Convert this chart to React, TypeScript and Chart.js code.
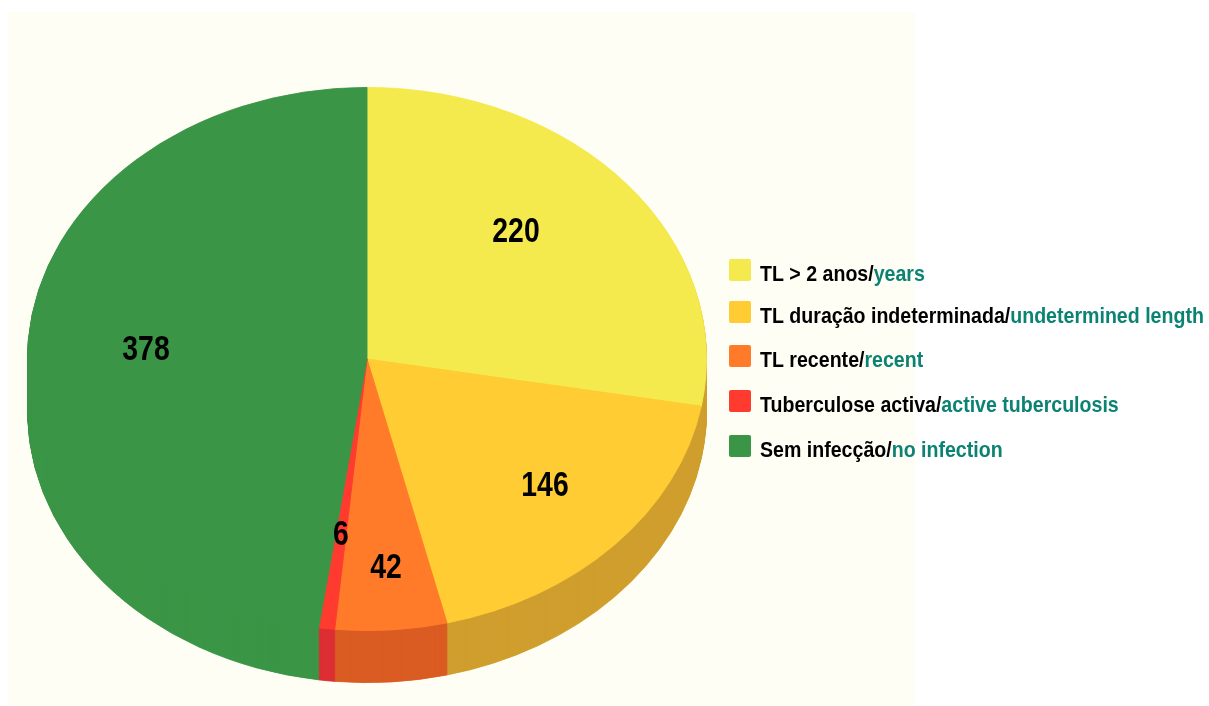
import React, { useEffect, useRef } from "react";
import { Chart, registerables } from "chart.js";

Chart.register(...registerables);

const values = [220, 146, 42, 6, 378];
const labelsPt = ["TL > 2 anos/", "TL duração indeterminada/", "TL recente/", "Tuberculose activa/", "Sem infecção/"];
const labelsEn = ["years", "undetermined length", "recent", "active tuberculosis", "no infection"];
const topColors = ["#F4EA4E", "#FFCC33", "#FF7B29", "#FF3B30", "#3B9546"];
const sideColors = ["#CF9E2E", "#CF9E2E", "#DA5C22", "#DC2F33", "#3B9546"];

const FONT = '"Liberation Sans", Arial, sans-serif';
const SQUASH = 0.8;
const DEPTH = 52;
const VALUE_NARROW = 0.81;
const LEGEND_NARROW = 0.89;
const valueAnchors = [
  [516, 232],
  [545, 486],
  [386, 568],
  [341, 535],
  [146, 350],
];
const legendBaselines = [281, 323, 367, 412, 457];

function narrowText(ctx: CanvasRenderingContext2D, text: string, x: number, y: number, k: number) {
  ctx.save();
  ctx.translate(x, y);
  ctx.scale(k, 1);
  ctx.fillText(text, 0, 0);
  ctx.restore();
}

const piePlugin = {
  id: "pie3d",
  beforeDraw(chart: any) {
    const { ctx } = chart;
    ctx.save();
    ctx.fillStyle = "#FFFEF5";
    ctx.fillRect(8, 12, 907, 694);
    ctx.restore();
  },
  beforeDatasetsDraw(chart: any) {
    const { ctx } = chart;
    const arcs = chart.getDatasetMeta(0).data;
    const cy = arcs[0].y;
    ctx.save();
    ctx.translate(0, cy);
    ctx.scale(1, SQUASH);
    ctx.translate(0, -cy);
    for (let d = DEPTH; d >= 1; d--) {
      ctx.save();
      ctx.translate(0, d / SQUASH);
      arcs.forEach((arc: any, i: number) => {
        const original = arc.options;
        const side = Object.create(original);
        side.backgroundColor = sideColors[i];
        side.borderColor = sideColors[i];
        arc.options = side;
        arc.draw(ctx);
        arc.options = original;
      });
      ctx.restore();
    }
  },
  afterDatasetsDraw(chart: any) {
    const { ctx } = chart;
    ctx.restore();
    ctx.save();
    ctx.fillStyle = "#000";
    ctx.textAlign = "center";
    ctx.textBaseline = "middle";
    ctx.font = `bold 35px ${FONT}`;
    values.forEach((v, i) => {
      narrowText(ctx, String(v), valueAnchors[i][0], valueAnchors[i][1], VALUE_NARROW);
    });
    ctx.textAlign = "left";
    ctx.textBaseline = "alphabetic";
    ctx.font = `bold 22px ${FONT}`;
    labelsPt.forEach((pt, i) => {
      const base = legendBaselines[i];
      ctx.fillStyle = topColors[i];
      ctx.beginPath();
      ctx.roundRect(729, base - 22, 22, 22, 2);
      ctx.fill();
      ctx.fillStyle = "#000";
      narrowText(ctx, pt, 760, base, LEGEND_NARROW);
      ctx.fillStyle = "#0B8273";
      narrowText(ctx, labelsEn[i], 760 + ctx.measureText(pt).width * LEGEND_NARROW, base, LEGEND_NARROW);
    });
    ctx.restore();
  },
};

export default function App() {
  const ref = useRef<HTMLCanvasElement>(null);
  useEffect(() => {
    const chart = new Chart(ref.current!, {
      type: "pie",
      data: {
        labels: labelsPt.map((p, i) => p + labelsEn[i]),
        datasets: [
          {
            data: values,
            backgroundColor: topColors,
            borderColor: topColors,
            borderWidth: 1,
          },
        ],
      },
      options: {
        responsive: false,
        animation: false,
        devicePixelRatio: 1,
        layout: { padding: { left: 27, right: 502, top: 19, bottom: 7 } },
        plugins: { legend: { display: false }, tooltip: { enabled: false } },
      },
      plugins: [piePlugin],
    });
    return () => chart.destroy();
  }, []);
  return (
    <div style={{ position: "absolute", left: 0, top: 0, width: 1209, height: 706, background: "#fff" }}>
      <canvas ref={ref} width={1209} height={706} style={{ display: "block" }} />
    </div>
  );
}
